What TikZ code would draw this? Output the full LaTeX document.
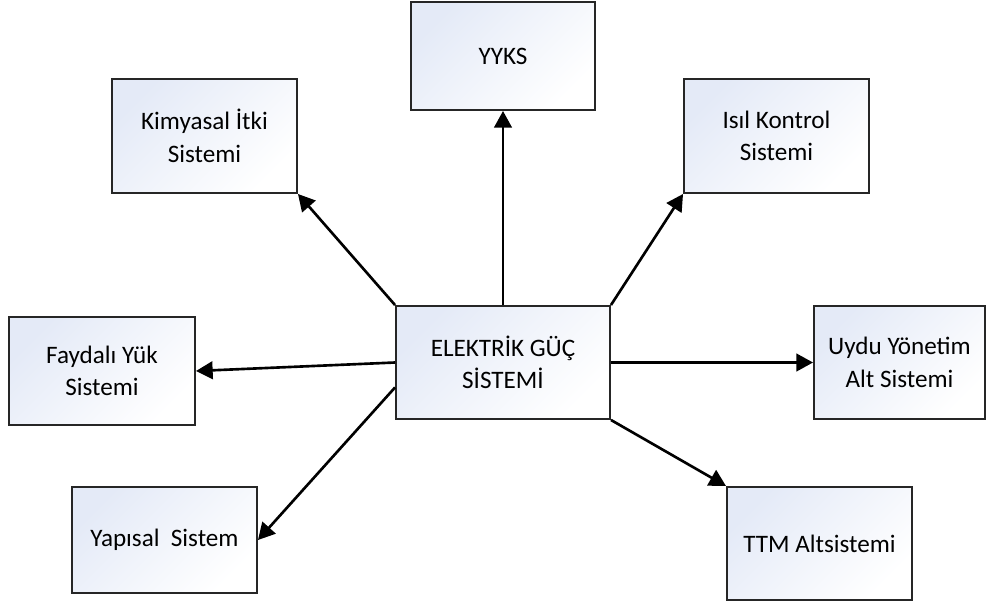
\documentclass[tikz,border=0pt]{standalone}
\usepackage{fontspec}
\setmainfont{Carlito}
\usepackage{xcolor}
\usepackage{tikz}
\usetikzlibrary{arrows.meta}
\definecolor{boxfill}{HTML}{E4EAF7}

\begin{document}
\begin{tikzpicture}[
    kutu/.style={draw=black!85, line width=1.1pt, top color=boxfill, bottom color=white,
      shading angle=45, align=center, inner sep=0pt,
      font=\fontsize{14.3}{18.5}\selectfont},
    ok/.style={line width=1.5pt, -{Triangle[length=9.5pt,width=10pt]}}
  ]
      \useasboundingbox (0,0) rectangle (19.8,-12.06);
      \node[kutu, minimum width=4.28cm, minimum height=2.26cm] (EGS) at (10.06,-7.25) {ELEKTR\.{I}K GÜÇ\\S\.{I}STEM\.{I}};
      \node[kutu, minimum width=3.68cm, minimum height=2.16cm] (YYKS) at (10.06,-1.12) {YYKS};
      \node[kutu, minimum width=3.70cm, minimum height=2.28cm] (KIS) at (4.09,-2.72) {Kimyasal \.{I}tki\\Sistemi};
      \node[kutu, minimum width=3.70cm, minimum height=2.28cm] (IKS) at (15.53,-2.72) {Isıl Kontrol\\Sistemi};
      \node[kutu, minimum width=3.72cm, minimum height=2.16cm] (FYS) at (2.04,-7.42) {Faydalı Yük\\Sistemi};
      \node[kutu, minimum width=3.42cm, minimum height=2.26cm] (UYS) at (17.99,-7.25) {Uydu Yönetim\\Alt Sistemi};
      \node[kutu, minimum width=3.70cm, minimum height=2.12cm] (YS) at (3.29,-10.80) {Yapısal\ \ Sistem};
      \node[kutu, minimum width=3.70cm, minimum height=2.26cm] (TTM) at (16.39,-10.87) {TTM Altsistemi};
      % baglantilar
      \draw[ok] (EGS.north) -- (YYKS.south);
      \draw[ok] (EGS.north west) -- (KIS.south east);
      \draw[ok] (EGS.north east) -- (IKS.south west);
      \draw[ok] (EGS.west) -- (FYS.east);
      \draw[ok] (EGS.east) -- (UYS.west);
      \draw[ok] (EGS.193) -- (YS.east);
      \draw[ok] (EGS.south east) -- (TTM.north west);
\end{tikzpicture}
\end{document}
